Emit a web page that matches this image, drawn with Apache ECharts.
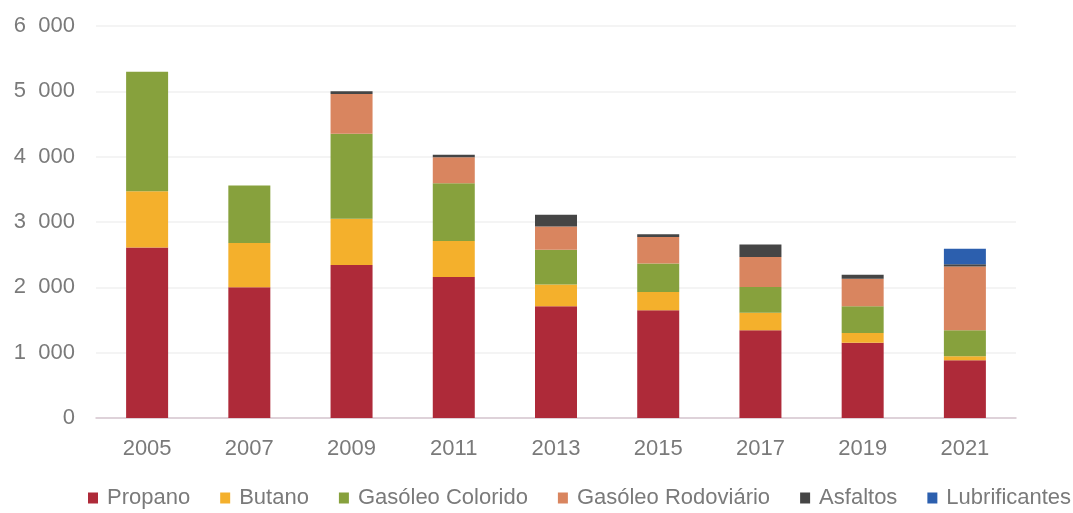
<!DOCTYPE html>
<html>
<head>
<meta charset="utf-8">
<script src="https://cdn.jsdelivr.net/npm/echarts@6/dist/echarts.min.js"></script>
<style>
html,body{margin:0;padding:0;background:#fff;}
#c{width:1073px;height:513px;}
</style>
</head>
<body>
<div id="c"></div>
<script>
const years = ['2005','2007','2009','2011','2013','2015','2017','2019','2021'];
const propano = [2610, 2000, 2340, 2160, 1710, 1650, 1345, 1150, 885];
const butano = [860, 680, 710, 550, 335, 280, 265, 152, 62];
const gasoleoColorido = [1830, 880, 1300, 885, 530, 435, 397, 408, 397];
const gasoleoRodoviario = [0, 0, 610, 397, 355, 406, 458, 423, 975];
const asfaltos = [0, 0, 40, 37, 180, 41, 189, 61, 35];
const lubrificantes = [0, 0, 0, 0, 0, 0, 0, 0, 235];
const yTicks = [0, 1000, 2000, 3000, 4000, 5000, 6000];

const names = ['Propano','Butano','Gasóleo Colorido','Gasóleo Rodoviário','Asfaltos','Lubrificantes'];
const colors = ['#ae2a39','#f4b02c','#87a13d','#d9855f','#454545','#2c5fae'];
const data = [propano, butano, gasoleoColorido, gasoleoRodoviario, asfaltos, lubrificantes];

const chart = echarts.init(document.getElementById('c'));
chart.setOption({
  animation: false,
  backgroundColor: '#fff',
  textStyle: {fontFamily: 'Liberation Sans, Arial, sans-serif'},
  grid: {left: 96, right: 57, top: 26, bottom: 95, containLabel: false},
  legend: {
    left: 88, bottom: 4, padding: 0,
    itemWidth: 10, itemHeight: 11, itemGap: 30,
    icon: 'rect',
    textStyle: {fontSize: 22, color: '#7a7a7a', padding: [0,0,0,4]},
    data: names
  },
  xAxis: {
    type: 'category',
    data: years,
    axisLine: {lineStyle: {color: '#d6c6cf', width: 1.5}},
    axisTick: {show: false},
    axisLabel: {fontSize: 22, color: '#7a7a7a', margin: 20}
  },
  yAxis: {
    type: 'value',
    min: 0, max: 6000, interval: 1000,
    axisLine: {show: false},
    axisTick: {show: false},
    splitLine: {lineStyle: {color: '#f0f0f0', width: 1.5}},
    axisLabel: {
      fontSize: 22, color: '#7a7a7a', margin: 21,
      formatter: v => yTicks.includes(v) ? (v >= 1000 ? String(Math.floor(v/1000)) + '  ' + String(v%1000).padStart(3,'0') : String(v)) : ''
    }
  },
  series: names.map((n, i) => ({
    name: n,
    type: 'bar',
    stack: 'total',
    barWidth: 42,
    itemStyle: {color: colors[i]},
    data: data[i]
  }))
});
</script>
</body>
</html>
